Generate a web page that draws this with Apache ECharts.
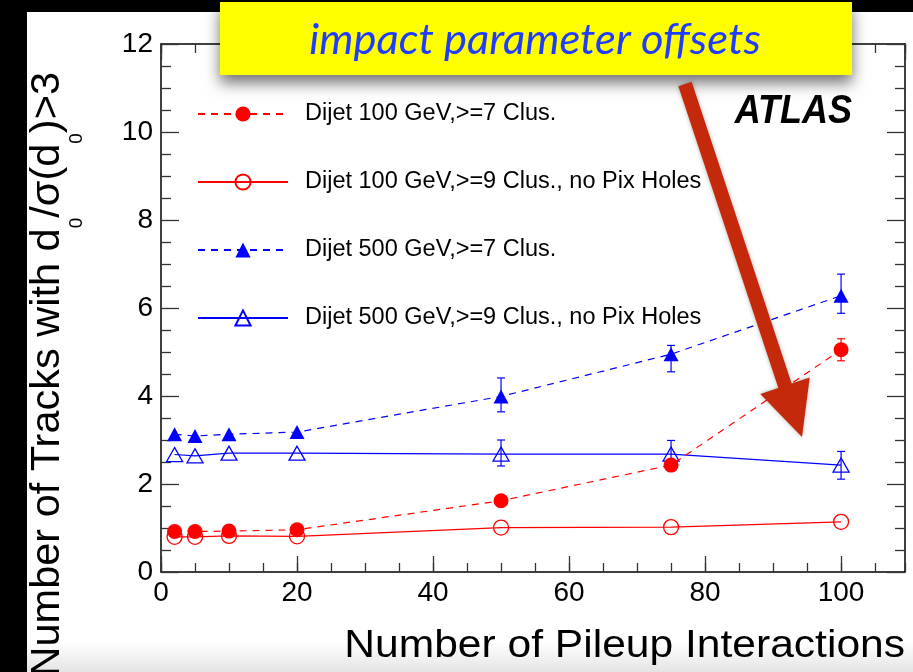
<!DOCTYPE html>
<html lang="en">
<head>
<meta charset="UTF-8">
<script src="https://cdn.jsdelivr.net/npm/echarts@6/dist/echarts.min.js"></script>
<title>impact parameter offsets</title>
<style>html,body{margin:0;padding:0;background:#000;}</style>
</head>
<body>
<div id="main" style="width:913px;height:672px;"></div>
<script type="text/javascript">
// number of pileup interactions
var pileup = [2, 5, 10, 20, 50, 75, 100];

// number of tracks with d0/sigma(d0) > 3
var dijet100_7 = [0.92, 0.92, 0.93, 0.96, 1.62, 2.43, 5.05];
var dijet100_9 = [0.80, 0.80, 0.82, 0.81, 1.01, 1.02, 1.14];
var dijet500_7 = [3.13, 3.09, 3.13, 3.18, 3.99, 4.95, 6.28];
var dijet500_9 = [2.67, 2.64, 2.70, 2.70, 2.68, 2.68, 2.43];

// error bars [x, low, high]
var err100_7 = [[100, 4.80, 5.30]];
var err500_7 = [[50, 3.64, 4.41], [75, 4.55, 5.15], [100, 5.88, 6.77]];
var err500_9 = [[50, 2.41, 3.00], [75, 2.39, 2.99], [100, 2.11, 2.74]];

var names = [
    'Dijet 100 GeV,>=7 Clus.',
    'Dijet 100 GeV,>=9 Clus., no Pix Holes',
    'Dijet 500 GeV,>=7 Clus.',
    'Dijet 500 GeV,>=9 Clus., no Pix Holes'
];

var font = '"Liberation Sans", Arial, Helvetica, sans-serif';

function pairs(ys) {
    return pileup.map(function (x, i) { return [x, ys[i]]; });
}

function errorSeries(data, color) {
    return {
        type: 'custom',
        data: data,
        encode: { x: 0, y: [1, 2] },
        z: 3,
        renderItem: function (params, api) {
            var lo = api.coord([api.value(0), api.value(1)]);
            var hi = api.coord([api.value(0), api.value(2)]);
            var st = { stroke: color, lineWidth: 1.2 };
            return {
                type: 'group',
                children: [
                    { type: 'line', shape: { x1: lo[0], y1: lo[1], x2: hi[0], y2: hi[1] }, style: st },
                    { type: 'line', shape: { x1: lo[0] - 4, y1: lo[1], x2: lo[0] + 4, y2: lo[1] }, style: st },
                    { type: 'line', shape: { x1: hi[0] - 4, y1: hi[1], x2: hi[0] + 4, y2: hi[1] }, style: st }
                ]
            };
        }
    };
}

function xAxisDef(pos, step, len, labels, line) {
    return {
        type: 'value', position: pos, min: 0, max: 109.4, interval: step,
        axisLine: { show: line, onZero: false, lineStyle: { color: '#000', width: 1.5 } },
        axisTick: { show: true, inside: true, length: len, lineStyle: { color: '#333', width: 1.3 } },
        axisLabel: { show: labels, showMaxLabel: false, fontSize: 28, color: '#000', fontFamily: font, margin: 7 },
        splitLine: { show: false }
    };
}

function yAxisDef(pos, labels) {
    return {
        type: 'value', position: pos, min: 0, max: 12, interval: 2,
        axisLine: { show: true, onZero: false, lineStyle: { color: '#000', width: 1.5 } },
        axisTick: { show: true, inside: true, length: 18, lineStyle: { color: '#333', width: 1.3 } },
        minorTick: { show: true, splitNumber: 4, length: 10, lineStyle: { color: '#333', width: 1.3 } },
        axisLabel: { show: labels, fontSize: 28, color: '#000', fontFamily: font, margin: 8 },
        splitLine: { show: false },
        minorSplitLine: { show: false }
    };
}

// arrow outline from start, tip and widths
var aS = [685, 84], aT = [802, 437];
var dx = aT[0] - aS[0], dy = aT[1] - aS[1], dl = Math.sqrt(dx * dx + dy * dy);
var ux = dx / dl, uy = dy / dl, nx = uy, ny = -ux;
var aB = [aT[0] - ux * 54, aT[1] - uy * 54];
function pt(p, k) { return [p[0] + nx * k, p[1] + ny * k]; }
var arrowPts = [pt(aS, 7), pt(aB, 7), pt(aB, 26), aT, pt(aB, -26), pt(aB, -7), pt(aS, -7)];

var myChart = echarts.init(document.getElementById('main'));

var option = {
    backgroundColor: '#000',
    animation: false,
    grid: { left: 161, right: 8, top: 44, bottom: 100, outerBoundsMode: 'none' },
    legend: {
        orient: 'vertical', left: 197, top: 102, padding: 0,
        itemWidth: 90, itemHeight: 19, itemGap: 44,
        selectedMode: false,
        data: names,
        textStyle: { fontSize: 23.5, lineHeight: 19, color: '#000', fontFamily: font, padding: [0, 0, 0, 12] }
    },
    xAxis: [
        xAxisDef('bottom', 20, 16, true, true),
        xAxisDef('bottom', 5, 9, false, false),
        xAxisDef('top', 20, 16, false, true),
        xAxisDef('top', 5, 9, false, false)
    ],
    yAxis: [yAxisDef('left', true), yAxisDef('right', false)],
    series: [
        {
            name: names[0], type: 'line', data: pairs(dijet100_7),
            symbol: 'circle', symbolSize: 15, z: 5,
            itemStyle: { color: '#ff0000' },
            lineStyle: { color: '#ff0000', width: 1.2, type: [7, 6] }
        },
        {
            name: names[1], type: 'line', data: pairs(dijet100_9),
            symbol: 'circle', symbolSize: 15, z: 4,
            itemStyle: { color: 'rgba(0,0,0,0)', borderColor: '#ff0000', borderWidth: 1.3 },
            lineStyle: { color: '#ff0000', width: 1.2 }
        },
        {
            name: names[2], type: 'line', data: pairs(dijet500_7),
            symbol: 'triangle', symbolSize: [15, 14], z: 5,
            itemStyle: { color: '#0000ff' },
            lineStyle: { color: '#0000ff', width: 1.2, type: [7, 6] }
        },
        {
            name: names[3], type: 'line', data: pairs(dijet500_9),
            symbol: 'triangle', symbolSize: [16, 14], z: 4,
            itemStyle: { color: 'rgba(0,0,0,0)', borderColor: '#0000ff', borderWidth: 1.3 },
            lineStyle: { color: '#0000ff', width: 1.2 }
        },
        errorSeries(err100_7, '#ff0000'),
        errorSeries(err500_7, '#0000ff'),
        errorSeries(err500_9, '#0000ff')
    ],
    graphic: [
        {
            type: 'rect', z: -10, silent: true,
            shape: { x: 27, y: 12, width: 886, height: 660 },
            style: {
                fill: new echarts.graphic.LinearGradient(0, 0, 0, 1, [
                    { offset: 0, color: '#ffffff' },
                    { offset: 0.955, color: '#ffffff' },
                    { offset: 1, color: '#e4e4e4' }
                ])
            }
        },
        {
            type: 'text', z: 60, x: 27, y: 72, rotation: Math.PI / 2,
            style: {
                text: '{m|Number of Tracks with d}{s|0}{m|/σ(d}{s|0}{m|)>3}',
                fill: '#000', align: 'right', verticalAlign: 'top',
                rich: {
                    m: { fontSize: 41.5, lineHeight: 42, fontFamily: font, verticalAlign: 'top' },
                    s: { fontSize: 19, lineHeight: 19, fontFamily: font, verticalAlign: 'top', padding: [40, 0, 0, 0] }
                }
            }
        },
        {
            type: 'text', z: 60, x: 905, y: 647, scaleX: 1.12,
            style: {
                text: 'Number of Pileup Interactions', fill: '#000',
                font: '38px ' + font, align: 'right', verticalAlign: 'middle'
            }
        },
        {
            type: 'text', z: 60, x: 852, y: 112, scaleX: 0.9,
            style: {
                text: 'ATLAS', fill: '#000',
                font: 'italic bold 40px ' + font, align: 'right', verticalAlign: 'middle'
            }
        },
        {
            type: 'rect', z: 70,
            shape: { x: 220, y: 2, width: 632, height: 73 },
            style: { fill: '#ffff00', shadowBlur: 14, shadowOffsetY: 8, shadowColor: 'rgba(0,0,0,0.55)' }
        },
        {
            type: 'text', z: 71, x: 535, y: 40,
            style: {
                text: 'impact parameter offsets', fill: '#1f3cff',
                font: 'italic 43.5px Lato, "Open Sans", sans-serif', align: 'center', verticalAlign: 'middle'
            }
        },
        {
            type: 'polygon', z: 72,
            shape: { points: arrowPts },
            style: { fill: '#c4290b', shadowBlur: 4, shadowColor: 'rgba(0,0,0,0.3)' }
        }
    ]
};

myChart.setOption(option);
</script>
</body>
</html>
